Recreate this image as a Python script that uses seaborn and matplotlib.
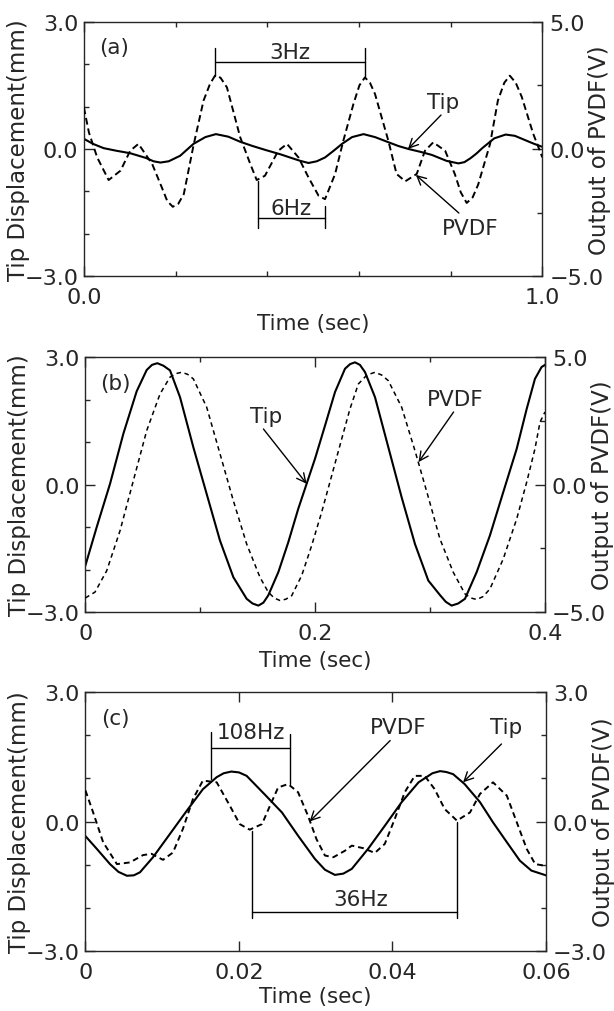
import matplotlib
matplotlib.use('Agg')
import matplotlib.pyplot as plt
import numpy as np
import seaborn as sns

sns.set_style('ticks')
plt.rcParams['font.family'] = ['DejaVu Sans']
plt.rcParams['font.size'] = 15
plt.rcParams['axes.linewidth'] = 1.0

# ---------------- data ----------------
# panel (a): 3 Hz excitation
a_tip_t = [0.0, 0.02, 0.043, 0.07, 0.101, 0.135, 0.152, 0.167, 0.185, 0.21, 0.239, 0.265, 0.288,
           0.315, 0.341, 0.368, 0.395, 0.43, 0.455, 0.472, 0.49, 0.508, 0.526, 0.545, 0.563, 0.585,
           0.61, 0.635, 0.664, 0.686, 0.708, 0.735, 0.759, 0.791, 0.817, 0.83, 0.843, 0.856, 0.869,
           0.895, 0.92, 0.94, 0.96, 0.98, 1.0]
a_tip_mm = [0.24, 0.12, 0.02, -0.04, -0.10, -0.21, -0.29, -0.32, -0.29, -0.16, 0.12, 0.28, 0.35,
            0.29, 0.17, 0.07, -0.02, -0.13, -0.22, -0.28, -0.33, -0.29, -0.20, -0.04, 0.12, 0.28,
            0.35, 0.28, 0.16, 0.07, 0.0, -0.07, -0.14, -0.28, -0.34, -0.31, -0.22, -0.11, 0.02,
            0.25, 0.34, 0.31, 0.22, 0.13, 0.05]
a_pvdf_t = [0.0, 0.011, 0.029, 0.054, 0.080, 0.101, 0.119, 0.149, 0.170, 0.182, 0.194, 0.206, 0.218,
            0.239, 0.261, 0.275, 0.286, 0.298, 0.312, 0.341, 0.363, 0.377, 0.395, 0.424, 0.443, 0.468,
            0.490, 0.512, 0.526, 0.548, 0.566, 0.588, 0.601, 0.613, 0.624, 0.635, 0.664, 0.682, 0.701,
            0.726, 0.744, 0.762, 0.788, 0.809, 0.822, 0.835, 0.848, 0.860, 0.886, 0.903, 0.917, 0.929,
            0.942, 0.955, 0.980, 1.0]
a_pvdf_v = [1.63, 0.65, -0.33, -1.22, -0.85, -0.07, 0.20, -0.59, -1.51, -2.05, -2.27, -2.15, -1.77,
            0.13, 1.90, 2.55, 2.88, 2.80, 2.42, 0.46, -0.59, -1.22, -1.05, -0.07, 0.20, -0.33,
            -1.12, -1.84, -1.97, -0.98, 0.33, 1.77, 2.50, 2.81, 2.60, 2.16, 0.33, -0.98, -1.27,
            -0.98, -0.07, 0.26, -0.07, -0.98, -1.70, -2.12, -1.90, -1.40, 0.20, 1.90, 2.60, 2.88,
            2.60, 2.05, 0.60, -0.33]

# panel (b): resonance
b_tip_t = [0.0, 0.0099, 0.0215, 0.0331, 0.0447, 0.0534, 0.058, 0.0626, 0.068, 0.0737, 0.0824, 0.094,
           0.1056, 0.1172, 0.1288, 0.1404, 0.1455, 0.1506, 0.155, 0.1592, 0.168, 0.1766, 0.1853,
           0.1926, 0.1999, 0.2086, 0.2173, 0.226, 0.2305, 0.2347, 0.239, 0.2434, 0.2521, 0.2637,
           0.2753, 0.2869, 0.2985, 0.3086, 0.3137, 0.3188, 0.3245, 0.3304, 0.3406, 0.3521, 0.3637,
           0.3754, 0.3841, 0.3913, 0.3971, 0.4]
b_tip_mm = [-1.91, -1.0, 0.02, 1.2, 2.2, 2.7, 2.82, 2.86, 2.80, 2.69, 2.06, 0.88,
            -0.22, -1.32, -2.18, -2.69, -2.80, -2.85, -2.78, -2.61, -2.06, -1.36, -0.57,
            0.02, 0.61, 1.39, 2.18, 2.73, 2.84, 2.88, 2.82, 2.65, 2.06, 0.88,
            -0.30, -1.40, -2.26, -2.60, -2.76, -2.85, -2.80, -2.69, -2.06, -1.20, -0.18,
            0.84, 1.78, 2.49, 2.77, 2.82]
b_pvdf_t = [0.0, 0.0084, 0.0186, 0.0302, 0.0418, 0.0534, 0.065, 0.0737, 0.079, 0.0839, 0.089, 0.094,
            0.1056, 0.1172, 0.1288, 0.1404, 0.152, 0.1592, 0.1643, 0.1694, 0.1745, 0.1796, 0.1883,
            0.197, 0.2057, 0.2144, 0.2231, 0.2303, 0.2376, 0.245, 0.2521, 0.258, 0.2637, 0.2753,
            0.2869, 0.2985, 0.3086, 0.3202, 0.3304, 0.3355, 0.3406, 0.346, 0.3521, 0.3637, 0.3754,
            0.3841, 0.3913, 0.3957, 0.4]
b_pvdf_v = [-4.45, -4.22, -3.38, -1.81, 0.16, 2.12, 3.56, 4.22, 4.36, 4.41, 4.33, 4.15,
            3.04, 1.21, -0.63, -2.33, -3.64, -4.22, -4.45, -4.55, -4.50, -4.36, -3.57,
            -2.39, -1.08, 0.35, 1.79, 2.97, 3.95, 4.30, 4.41, 4.30, 4.08, 3.04,
            1.33, -0.49, -2.13, -3.44, -4.29, -4.45, -4.51, -4.40, -4.10, -2.92, -1.35,
            0.09, 1.40, 2.45, 2.85]

# panel (c): 36 Hz excitation
c_tip_t = [0.0, 0.0015, 0.0032, 0.0043, 0.0054, 0.0063, 0.0071, 0.0088, 0.011, 0.0132, 0.0153,
           0.0171, 0.018, 0.019, 0.020, 0.021, 0.0234, 0.0256, 0.0277, 0.0299, 0.0312, 0.0325,
           0.0336, 0.0347, 0.0368, 0.039, 0.0412, 0.0434, 0.0452, 0.0462, 0.047, 0.0479, 0.0494,
           0.0514, 0.0531, 0.0549, 0.0566, 0.0581, 0.06]
c_tip_mm = [-0.34, -0.64, -0.99, -1.17, -1.26, -1.25, -1.18, -0.83, -0.29, 0.25, 0.75,
            1.03, 1.12, 1.16, 1.14, 1.06, 0.62, 0.21, -0.33, -0.87, -1.12, -1.24,
            -1.21, -1.10, -0.64, -0.10, 0.45, 0.91, 1.12, 1.17, 1.15, 1.10, 0.87,
            0.45, -0.02, -0.48, -0.91, -1.14, -1.25]
c_pvdf_t = [0.0, 0.001, 0.0023, 0.0041, 0.0058, 0.0075, 0.0086, 0.0101, 0.0114, 0.0127, 0.014, 0.0153,
            0.0171, 0.0188, 0.0201, 0.0214, 0.023, 0.024, 0.0251, 0.0264, 0.0277, 0.029, 0.0301,
            0.0312, 0.0323, 0.0338, 0.0347, 0.0362, 0.0377, 0.039, 0.0403, 0.0416, 0.0429, 0.0442,
            0.0455, 0.0468, 0.0484, 0.0501, 0.0514, 0.0531, 0.0549, 0.0562, 0.0575, 0.0586, 0.06]
c_pvdf_v = [0.72, 0.21, -0.48, -0.99, -0.95, -0.78, -0.75, -0.89, -0.72, -0.17, 0.52, 0.95,
            0.91, 0.37, -0.06, -0.19, -0.06, 0.35, 0.79, 0.87, 0.68, 0.13, -0.41,
            -0.79, -0.83, -0.68, -0.56, -0.62, -0.73, -0.52, 0.06, 0.68, 1.06, 1.06,
            0.75, 0.29, 0.02, 0.21, 0.64, 0.91, 0.60, -0.02, -0.64, -0.99, -1.03]

# tick labels
a_xticks = [0.0, 1.0]
a_xlabels = ['0.0', '1.0']
b_xticks = [0.0, 0.2, 0.4]
b_xlabels = ['0', '0.2', '0.4']
c_xticks = [0.0, 0.02, 0.04, 0.06]
c_xlabels = ['0', '0.02', '0.04', '0.06']


def draw_panel(ax, tip_t, tip, pvdf_t, pvdf, xlim, vlim, xticks, xlabels, xminor, vminor,
               dash, dash_lw, tag):
    ax2 = ax.twinx()
    sns.lineplot(x=np.array(tip_t), y=np.array(tip), ax=ax, color='black', lw=1.5,
                 estimator=None, sort=False)
    sns.lineplot(x=np.array(pvdf_t), y=np.array(pvdf), ax=ax2, color='black', lw=dash_lw,
                 estimator=None, sort=False)
    ax2.lines[-1].set_dashes(dash)

    ax.set_xlim(xlim)
    ax.set_ylim(-3, 3)
    ax2.set_ylim(-vlim, vlim)

    ax.set_xticks(xticks)
    ax.set_xticklabels(xlabels)
    ax.set_xticks(xminor, minor=True)
    ax.set_yticks([-3, 0, 3])
    ax.set_yticklabels(['\u22123.0', '0.0', '3.0'])
    ax.set_yticks([-2, -1, 1, 2], minor=True)
    ax2.set_yticks([-vlim, 0, vlim])
    ax2.set_yticklabels(['\u2212%.1f' % vlim, '0.0', '%.1f' % vlim])
    ax2.set_yticks(vminor, minor=True)

    ax.tick_params(which='both', direction='in', top=True, right=False, width=1.0, labelsize=16)
    ax.tick_params(which='major', length=7)
    ax.tick_params(which='minor', length=3.5)
    ax.tick_params(axis='x', pad=8)
    ax.tick_params(axis='y', pad=4)
    ax2.tick_params(which='both', direction='in', width=1.0, labelsize=16, pad=5)
    ax2.tick_params(which='major', length=7)
    ax2.tick_params(which='minor', length=3.5)

    ax.set_ylabel('Tip Displacement(mm)', fontsize=16.5)
    ax2.set_ylabel('Output of PVDF(V)', fontsize=16.5)
    ax.yaxis.set_label_coords(-0.118, 0.5)
    ax2.yaxis.set_label_coords(1.10, 0.5)
    ax.set_xlabel('Time (sec)', fontsize=15.5)

    ax.text(0.065, 0.90, tag, transform=ax.transAxes, ha='center', va='center', fontsize=15.5)
    for s in ['top', 'right', 'bottom', 'left']:
        ax2.spines[s].set_visible(False)
    return ax2


def bracket(ax, x0, x1, y, left, right):
    ax.plot([x0, x1], [y, y], color='black', lw=1.0)
    ax.plot([x0, x0], left, color='black', lw=1.0)
    ax.plot([x1, x1], right, color='black', lw=1.0)


def arrow(ax, label, text_xy, start, head):
    ax.text(text_xy[0], text_xy[1], label, ha='center', va='center', fontsize=15.5)
    ax.annotate('', xy=head, xytext=start,
                arrowprops=dict(arrowstyle='->', lw=1.0, color='black',
                                shrinkA=0, shrinkB=0, mutation_scale=16))


fig = plt.figure(figsize=(6.14, 10.12), dpi=100)
ax_a = fig.add_axes([0.1366, 0.726, 0.7467, 0.2516])
ax_b = fig.add_axes([0.1390, 0.3943, 0.7485, 0.2517])
ax_c = fig.add_axes([0.1392, 0.0596, 0.7500, 0.2553])

# ---------------- panel (a) ----------------
draw_panel(ax_a, a_tip_t, a_tip_mm, a_pvdf_t, a_pvdf_v, (0, 1.0), 5.0, a_xticks, a_xlabels,
           [0.2, 0.4, 0.6, 0.8], [-2.5, 2.5], (3.5, 2.0), 1.4, '(a)')
ax_a.xaxis.set_label_coords(0.5, -0.145)
bracket(ax_a, 0.287, 0.614, 2.04, [1.73, 2.39], [1.69, 2.39])
ax_a.text(0.45, 2.29, '3Hz', ha='center', va='center', fontsize=15.5)
bracket(ax_a, 0.380, 0.525, -1.63, [-1.87, -0.76], [-1.87, -1.35])
ax_a.text(0.452, -1.39, '6Hz', ha='center', va='center', fontsize=15.5)
arrow(ax_a, 'Tip', (0.784, 1.11), (0.779, 0.80), (0.707, 0.0))
arrow(ax_a, 'PVDF', (0.843, -1.87), (0.818, -1.51), (0.724, -0.61))

# ---------------- panel (b) ----------------
draw_panel(ax_b, b_tip_t, b_tip_mm, b_pvdf_t, b_pvdf_v, (0, 0.4), 5.0, b_xticks, b_xlabels,
           [0.1, 0.3], [-2.5, 2.5], (3.0, 2.4), 1.1, '(b)')
ax_b.xaxis.set_label_coords(0.5, -0.15)
arrow(ax_b, 'Tip', (0.157, 1.61), (0.155, 1.31), (0.1926, 0.02))
arrow(ax_b, 'PVDF', (0.322, 2.02), (0.3205, 1.71), (0.290, 0.53))

# ---------------- panel (c) ----------------
draw_panel(ax_c, c_tip_t, c_tip_mm, c_pvdf_t, c_pvdf_v, (0, 0.06), 3.0, c_xticks, c_xlabels,
           [], [-2, -1, 1, 2], (3.0, 2.0), 1.4, '(c)')
ax_c.xaxis.set_label_coords(0.5, -0.135)
bracket(ax_c, 0.0163, 0.0266, 1.70, [0.98, 2.07], [0.87, 2.03])
ax_c.text(0.0216, 2.07, '108Hz', ha='center', va='center', fontsize=15.5)
bracket(ax_c, 0.0217, 0.0484, -2.10, [-2.23, -0.22], [-2.23, 0.0])
ax_c.text(0.0358, -1.81, '36Hz', ha='center', va='center', fontsize=15.5)
arrow(ax_c, 'PVDF', (0.0408, 2.19), (0.0397, 1.88), (0.0292, 0.0))
arrow(ax_c, 'Tip', (0.0548, 2.19), (0.0542, 1.80), (0.0492, 0.91))

fig.savefig('out.png', dpi=100)
